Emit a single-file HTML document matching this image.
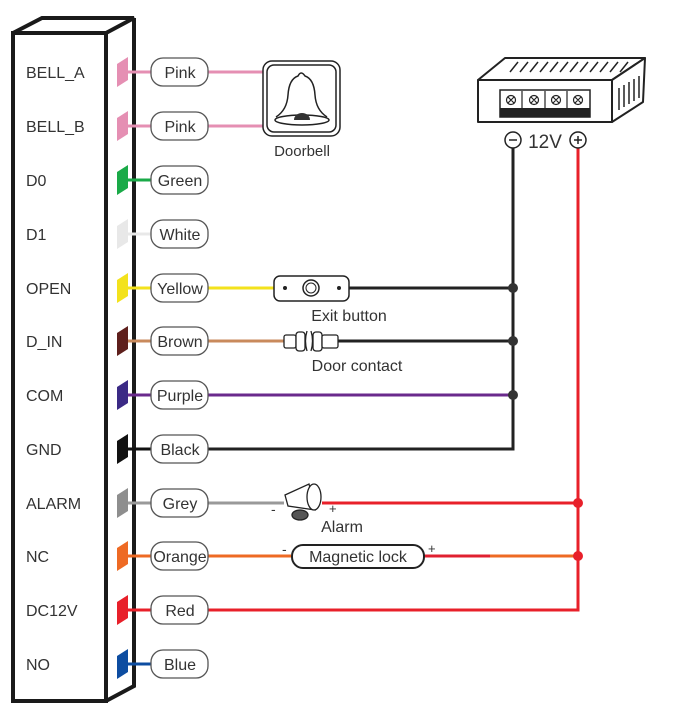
<!DOCTYPE html>
<html><head><meta charset="utf-8"><style>
html,body{margin:0;padding:0;background:#fff;}
svg{display:block;}
text{font-family:"Liberation Sans",sans-serif;}
</style></head><body>
<svg width="676" height="714" viewBox="0 0 676 714" xmlns="http://www.w3.org/2000/svg">
<rect width="676" height="714" fill="#fff"/>
<g fill="none" stroke="#1a1a1a" stroke-width="4" stroke-linejoin="miter">
<rect x="13" y="33" width="93" height="668"/>
<polyline points="13,33 42,18 134,18 106,33"/>
<polyline points="134,18 134,686 106,701"/>
</g>
<g font-size="16" fill="#333">
<text x="26" y="78">BELL_A</text>
<text x="26" y="132">BELL_B</text>
<text x="26" y="186">D0</text>
<text x="26" y="240">D1</text>
<text x="26" y="294">OPEN</text>
<text x="26" y="347">D_IN</text>
<text x="26" y="401">COM</text>
<text x="26" y="455">GND</text>
<text x="26" y="509">ALARM</text>
<text x="26" y="562">NC</text>
<text x="26" y="616">DC12V</text>
<text x="26" y="670">NO</text>
</g>
<g font-size="16" fill="#333" text-anchor="middle">
<g>
<polygon points="117,64 128,57 128,80 117,87" fill="#e58fb3"/><line x1="128" y1="72" x2="151" y2="72" stroke="#e58fb3" stroke-width="3"/>
<polygon points="117,118 128,111 128,134 117,141" fill="#e58fb3"/><line x1="128" y1="126" x2="151" y2="126" stroke="#e58fb3" stroke-width="3"/>
<polygon points="117,172 128,165 128,188 117,195" fill="#1aaa48"/><line x1="128" y1="180" x2="151" y2="180" stroke="#1aaa48" stroke-width="3"/>
<polygon points="117,226 128,219 128,242 117,249" fill="#e8e8e8"/><line x1="128" y1="234" x2="151" y2="234" stroke="#e8e8e8" stroke-width="3"/>
<polygon points="117,280 128,273 128,296 117,303" fill="#f3e21c"/><line x1="128" y1="288" x2="151" y2="288" stroke="#f3e21c" stroke-width="3"/>
<polygon points="117,333 128,326 128,349 117,356" fill="#5e1f1c"/><line x1="128" y1="341" x2="151" y2="341" stroke="#c98a5c" stroke-width="3"/>
<polygon points="117,387 128,380 128,403 117,410" fill="#3b2a85"/><line x1="128" y1="395" x2="151" y2="395" stroke="#6a2a8c" stroke-width="3"/>
<polygon points="117,441 128,434 128,457 117,464" fill="#111"/><line x1="128" y1="449" x2="151" y2="449" stroke="#111" stroke-width="3"/>
<polygon points="117,495 128,488 128,511 117,518" fill="#8e8e8e"/><line x1="128" y1="503" x2="151" y2="503" stroke="#999" stroke-width="3"/>
<polygon points="117,548 128,541 128,564 117,571" fill="#ee6a24"/><line x1="128" y1="556" x2="151" y2="556" stroke="#ee6a24" stroke-width="3"/>
<polygon points="117,602 128,595 128,618 117,625" fill="#e8202a"/><line x1="128" y1="610" x2="151" y2="610" stroke="#e8202a" stroke-width="3"/>
<polygon points="117,656 128,649 128,672 117,679" fill="#0d4da1"/><line x1="128" y1="664" x2="151" y2="664" stroke="#0d4da1" stroke-width="3"/>
</g>
<g fill="none" stroke-width="3">
<line x1="208" y1="72" x2="263" y2="72" stroke="#e58fb3"/>
<line x1="208" y1="126" x2="263" y2="126" stroke="#e58fb3"/>
<line x1="208" y1="288" x2="274" y2="288" stroke="#f3e21c"/>
<line x1="349" y1="288" x2="513" y2="288" stroke="#222"/>
<line x1="208" y1="341" x2="285" y2="341" stroke="#c98a5c"/>
<line x1="338" y1="341" x2="513" y2="341" stroke="#222"/>
<line x1="208" y1="395" x2="513" y2="395" stroke="#6a2a8c"/>
<polyline points="208,449 513,449 513,148" stroke="#222"/>
<line x1="208" y1="503" x2="284" y2="503" stroke="#999"/>
<line x1="322" y1="503" x2="578" y2="503" stroke="#e8202a"/>
<line x1="208" y1="556" x2="291" y2="556" stroke="#ee6a24"/>
<line x1="424" y1="556" x2="490" y2="556" stroke="#e02030"/>
<line x1="490" y1="556" x2="578" y2="556" stroke="#ee6a24"/>
<polyline points="208,610 578,610 578,148" stroke="#e8202a"/>
</g>
<g fill="#333"><circle cx="513" cy="288" r="5"/><circle cx="513" cy="341" r="5"/><circle cx="513" cy="395" r="5"/></g>
<g fill="#e8202a"><circle cx="578" cy="503" r="5"/><circle cx="578" cy="556" r="5"/></g>
<g fill="#fff" stroke="#555" stroke-width="1.3">
<rect x="151" y="58" width="57" height="28" rx="12"/>
<rect x="151" y="112" width="57" height="28" rx="12"/>
<rect x="151" y="166" width="57" height="28" rx="12"/>
<rect x="151" y="220" width="57" height="28" rx="12"/>
<rect x="151" y="274" width="57" height="28" rx="12"/>
<rect x="151" y="327" width="57" height="28" rx="12"/>
<rect x="151" y="381" width="57" height="28" rx="12"/>
<rect x="151" y="435" width="57" height="28" rx="12"/>
<rect x="151" y="489" width="57" height="28" rx="12"/>
<rect x="151" y="542" width="57" height="28" rx="12"/>
<rect x="151" y="596" width="57" height="28" rx="12"/>
<rect x="151" y="650" width="57" height="28" rx="12"/>
</g>
<text x="180" y="78">Pink</text>
<text x="180" y="132">Pink</text>
<text x="180" y="186">Green</text>
<text x="180" y="240">White</text>
<text x="180" y="294">Yellow</text>
<text x="180" y="347">Brown</text>
<text x="180" y="401">Purple</text>
<text x="180" y="455">Black</text>
<text x="180" y="509">Grey</text>
<text x="180" y="562">Orange</text>
<text x="180" y="616">Red</text>
<text x="180" y="670">Blue</text>
</g>
<g fill="none" stroke="#222" stroke-width="1.5">
<rect x="263" y="61" width="77" height="75" rx="9"/>
<rect x="267" y="65" width="69" height="67" rx="7"/>
<path d="M276,117 Q287,110 288,95 Q289,79 298,76 Q301,70 305,76 Q314,79 315,95 Q316,110 327,117"/>
<ellipse cx="302" cy="120" rx="27" ry="5"/>
</g>
<path d="M294,120 a8,7 0 0 1 16,0 z" fill="#333"/>
<text x="302" y="156" font-size="15" fill="#333" text-anchor="middle">Doorbell</text>
<rect x="274" y="276" width="75" height="25" rx="6" fill="#fff" stroke="#222" stroke-width="1.5"/>
<circle cx="285" cy="288" r="2" fill="#222"/><circle cx="339" cy="288" r="2" fill="#222"/>
<circle cx="311" cy="288" r="8" fill="#fff" stroke="#222" stroke-width="1.5"/><circle cx="311" cy="288" r="5" fill="none" stroke="#222"/>
<text x="349" y="321" font-size="16" fill="#333" text-anchor="middle">Exit button</text>
<g fill="#fff" stroke="#222" stroke-width="1.3">
<rect x="284" y="335" width="12" height="13" rx="2"/>
<rect x="296" y="332" width="9" height="19" rx="3"/>
<path d="M307,331 q-3,10 0,20"/><path d="M311,331 q3,10 0,20"/>
<rect x="313" y="332" width="9" height="19" rx="3"/>
<rect x="322" y="335" width="16" height="13" rx="2"/>
</g>
<text x="357" y="371" font-size="16" fill="#333" text-anchor="middle">Door contact</text>
<g fill="#fff" stroke="#222" stroke-width="1.3">
<path d="M285,495 L309,484 L315,510 L288,506 Z"/>
<ellipse cx="314" cy="497" rx="7" ry="13"/>
<ellipse cx="300" cy="515" rx="8" ry="5" fill="#555"/>
</g>
<text x="271" y="514" font-size="14" fill="#333">-</text>
<text x="329" y="513" font-size="13" fill="#333">+</text>
<text x="342" y="532" font-size="16" fill="#333" text-anchor="middle">Alarm</text>
<rect x="292" y="545" width="132" height="23" rx="11" fill="#fff" stroke="#222" stroke-width="2"/>
<text x="358" y="562" font-size="16" fill="#333" text-anchor="middle">Magnetic lock</text>
<text x="282" y="554" font-size="14" fill="#333">-</text>
<text x="428" y="553" font-size="13" fill="#333">+</text>
<g fill="#fff" stroke="#222" stroke-width="2" stroke-linejoin="round">
<polygon points="478,80 505,58 645,58 612,80"/>
<polygon points="612,80 645,58 643,102 612,122"/>
<rect x="478" y="80" width="134" height="42"/>
</g>
<g stroke="#222" stroke-width="1.5">
<line x1="510" y1="72" x2="518" y2="62"/><line x1="520" y1="72" x2="528" y2="62"/><line x1="530" y1="72" x2="538" y2="62"/><line x1="540" y1="72" x2="548" y2="62"/><line x1="550" y1="72" x2="558" y2="62"/><line x1="560" y1="72" x2="568" y2="62"/><line x1="570" y1="72" x2="578" y2="62"/><line x1="580" y1="72" x2="588" y2="62"/><line x1="590" y1="72" x2="598" y2="62"/><line x1="600" y1="72" x2="608" y2="62"/><line x1="610" y1="72" x2="618" y2="62"/><line x1="620" y1="72" x2="628" y2="62"/>
<line x1="619" y1="88" x2="619" y2="110"/><line x1="624" y1="85" x2="624" y2="107"/><line x1="629" y1="82" x2="629" y2="104"/><line x1="634" y1="79" x2="634" y2="101"/><line x1="639" y1="76" x2="639" y2="98"/>
</g>
<rect x="500" y="90" width="90" height="27" fill="#fff" stroke="#222" stroke-width="1.5"/>
<rect x="500" y="108" width="90" height="9" fill="#222"/>
<g fill="none" stroke="#222" stroke-width="1.2">
<line x1="522" y1="91" x2="522" y2="108"/><line x1="545" y1="91" x2="545" y2="108"/><line x1="567" y1="91" x2="567" y2="108"/>
<circle cx="511" cy="100" r="4.5"/><circle cx="534" cy="100" r="4.5"/><circle cx="556" cy="100" r="4.5"/><circle cx="578" cy="100" r="4.5"/>
<path d="M508,97 l6,6 M514,97 l-6,6 M531,97 l6,6 M537,97 l-6,6 M553,97 l6,6 M559,97 l-6,6 M575,97 l6,6 M581,97 l-6,6"/>
</g>
<circle cx="513" cy="140" r="8" fill="#fff" stroke="#222" stroke-width="1.5"/><line x1="509" y1="140" x2="517" y2="140" stroke="#222" stroke-width="1.5"/>
<circle cx="578" cy="140" r="8" fill="#fff" stroke="#222" stroke-width="1.5"/><path d="M574,140 h8 M578,136 v8" stroke="#222" stroke-width="1.5"/>
<text x="545" y="148" font-size="19" fill="#333" text-anchor="middle">12V</text>
</svg>
</body></html>
